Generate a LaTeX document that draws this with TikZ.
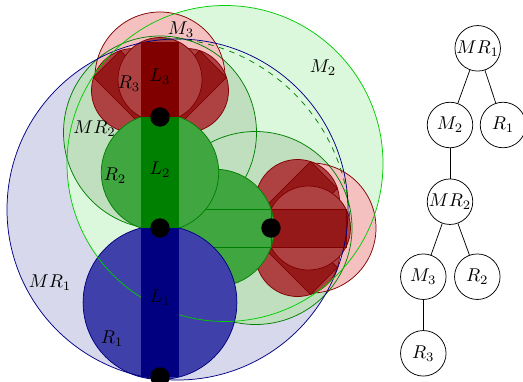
\documentclass[tikz,border=0pt]{standalone}
\usepackage{xcolor}
\usepackage{tikz}
\usetikzlibrary{positioning}
\definecolor{lnkblue}{HTML}{000080}
\definecolor{lnkgreen}{HTML}{008000}
\definecolor{lnkred}{HTML}{800000}
\definecolor{rblue}{HTML}{4040AA}
\definecolor{rgreen}{HTML}{40A640}
\definecolor{rred}{HTML}{AE4242}
\definecolor{rreddark}{HTML}{961919}
\definecolor{mrbluepale}{HTML}{D8D8EC}
\definecolor{mgreenpale}{HTML}{DCF8DC}
\definecolor{mrgreenpale}{HTML}{BFDFBF}
\definecolor{mredpale}{HTML}{F4C0C0}
\definecolor{swgreen}{HTML}{00CC00}

\begin{document}
\begin{tikzpicture}[x=0.019cm, y=0.019cm]
\useasboundingbox (0,0) rectangle (523,381);

%% Joints
\coordinate (J0) at (160,4);
\coordinate (J1) at (160,153);
\coordinate (J2) at (160,264);
\coordinate (J2b) at (271,153);

%% ── Outer volumes, fills ────────────────────────────────────────────────
\fill[mrbluepale] (177.5,171.5) circle (170.5);
\fill[mgreenpale] (225,217.5) circle (158);
\fill[mrgreenpale] (160,248.5) circle (96.5);
\fill[mrgreenpale] (255.5,153) circle (96.5);
\fill[mredpale] (160,304) circle (65);
\fill[mredpale] (311,153) circle (65);

%% MR2 and M3 rims
\draw[lnkgreen] (160,248.5) circle (96.5);
\draw[lnkgreen] (255.5,153) circle (96.5);
\draw[lnkred] (160,304) circle (65);
\draw[lnkred] (311,153) circle (65);

%% ── Link 3 at -45, 45 and 0 ─────────────────────────────────────────────
\foreach \j/\a in {J2/90, J2b/0} {
  \foreach \t in {-45,45}
    \filldraw[draw=lnkred, fill=rred, shift={(\j)}, rotate=\a+\t] (37.5,0) circle (42);
  \foreach \t in {-45,45}
    \filldraw[draw=lnkred, fill=rreddark, shift={(\j)}, rotate=\a+\t] (0,-19) rectangle (75,19);
  \filldraw[draw=lnkred, fill=rred, shift={(\j)}, rotate=\a] (37.5,0) circle (42);
}
\filldraw[draw=lnkred, fill=rreddark] (271,134) rectangle (346,172);

%% ── Link 2 ──────────────────────────────────────────────────────────────
\filldraw[draw=lnkgreen, fill=rgreen] (215.5,153) circle (58.7);
\draw[lnkgreen] (160,134) rectangle (271,172);
\filldraw[draw=lnkgreen, fill=rgreen] (160,208.5) circle (58.7);

%% ── Link 1 ──────────────────────────────────────────────────────────────
\filldraw[draw=lnkblue, fill=rblue] (160,78.5) circle (76.9);

%% MR1 and M2 rims, sweep of MR2
\draw[lnkblue] (177.5,171.5) circle (170.5);
\draw[swgreen] (225,217.5) circle (158);
\draw[lnkgreen, dashed] (J1) ++(190,0) arc[start angle=0, end angle=90, radius=190];

%% ── Links ───────────────────────────────────────────────────────────────
\fill[lnkblue] (141,4) rectangle (179,153);
\fill[lnkgreen] (141,153) rectangle (179,264);
\fill[lnkred] (141,264) rectangle (179,339);

%% Joint dots
\foreach \j in {J0,J1,J2,J2b}
  \fill (\j) circle (9.7);

%% Labels
\node (labM3) at (181,351) {$M_3$};
\node (labM2) at (323,313) {$M_2$};
\node (labL3) at (160,304) {$L_3$};
\node (labR3) at (129,297) {$R_3$};
\node (labMR2) at (94.5,252) {$MR_2$};
\node (labL2) at (160,211) {$L_2$};
\node (labR2) at (115,205) {$R_2$};
\node (labMR1) at (50,98) {$MR_1$};
\node (labL1) at (160,83) {$L_1$};
\node (labR1) at (112,42) {$R_1$};

%% ── Tree ────────────────────────────────────────────────────────────────
\tikzset{bvnode/.style={draw, circle, inner sep=0pt, minimum size=0.865cm}}
\node[bvnode] (tMR1) at (477.7,332.7) {$MR_1$};
\node[bvnode] (tM2) at (450,256) {$M_2$};
\node[bvnode] (tR1) at (503,256) {$R_1$};
\node[bvnode] (tMR2) at (450,179.3) {$MR_2$};
\node[bvnode] (tM3) at (423.3,104.3) {$M_3$};
\node[bvnode] (tR2) at (477.3,104.3) {$R_2$};
\node[bvnode] (tR3) at (423.3,27.7) {$R_3$};
\draw (tMR1) -- (tM2);
\draw (tMR1) -- (tR1);
\draw (tM2) -- (tMR2);
\draw (tMR2) -- (tM3);
\draw (tMR2) -- (tR2);
\draw (tM3) -- (tR3);

\end{tikzpicture}
\end{document}
